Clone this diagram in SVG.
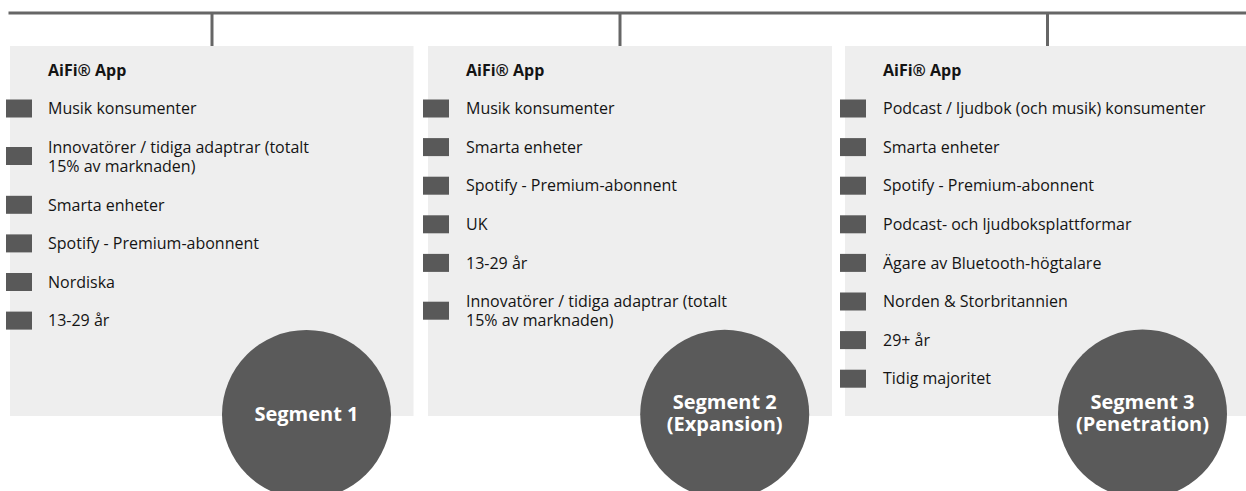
<svg xmlns="http://www.w3.org/2000/svg" width="1246" height="491" viewBox="0 0 1246 491">
<style>
.panel{fill:#eeeeee}
.bul{fill:#595959}
.conn{stroke:#666666;stroke-width:3;fill:none}
.t{font-family:"Open Sans","Liberation Sans",sans-serif;font-size:16px;fill:#141414}
.h{font-family:"Open Sans","Liberation Sans",sans-serif;font-size:16px;font-weight:bold;fill:#141414}
.circ{fill:#5a5a5a}
.ct{font-family:"Open Sans","Liberation Sans",sans-serif;font-size:20px;font-weight:bold;fill:#ffffff;text-anchor:middle}
</style>
<rect width="1246" height="491" fill="#ffffff"/>
<g id="connectors">
<line class="conn" x1="8.5" y1="13" x2="1246" y2="13"/>
<line class="conn" x1="212" y1="13" x2="212" y2="46"/>
<line class="conn" x1="620" y1="13" x2="620" y2="46"/>
<line class="conn" x1="1047.5" y1="13" x2="1047.5" y2="46"/>
</g>
<g id="segment1">
<rect class="panel" x="10" y="46" width="403.5" height="370"/>
<text class="h" x="48" y="75.5">AiFi® App</text>
<rect class="bul" x="6" y="99.5" width="26" height="18"/>
<text class="t" x="48" y="114">Musik konsumenter</text>
<rect class="bul" x="6" y="147" width="26" height="18"/>
<text class="t" x="48" y="152.7">Innovatörer / tidiga adaptrar (totalt<tspan x="48" dy="19.3">15% av marknaden)</tspan></text>
<rect class="bul" x="6" y="195.8" width="26" height="18"/>
<text class="t" x="48" y="210.6">Smarta enheter</text>
<rect class="bul" x="6" y="234.4" width="26" height="18"/>
<text class="t" x="48" y="249.2">Spotify - Premium-abonnent</text>
<rect class="bul" x="6" y="273" width="26" height="18"/>
<text class="t" x="48" y="287.8">Nordiska</text>
<rect class="bul" x="6" y="311.6" width="26" height="18"/>
<text class="t" x="48" y="326.4">13-29 år</text>
<circle class="circ" cx="306.5" cy="414.5" r="84.5"/>
<text class="ct" x="306.5" y="420.5">Segment 1</text>
</g>
<g id="segment2">
<rect class="panel" x="428" y="46" width="404" height="370"/>
<text class="h" x="466" y="75.5">AiFi® App</text>
<rect class="bul" x="423" y="99.5" width="26" height="18"/>
<text class="t" x="466" y="114">Musik konsumenter</text>
<rect class="bul" x="423" y="138.1" width="26" height="18"/>
<text class="t" x="466" y="152.7">Smarta enheter</text>
<rect class="bul" x="423" y="176.7" width="26" height="18"/>
<text class="t" x="466" y="191.3">Spotify - Premium-abonnent</text>
<rect class="bul" x="423" y="215.3" width="26" height="18"/>
<text class="t" x="466" y="229.9">UK</text>
<rect class="bul" x="423" y="253.9" width="26" height="18"/>
<text class="t" x="466" y="268.5">13-29 år</text>
<rect class="bul" x="423" y="301.7" width="26" height="18"/>
<text class="t" x="466" y="307.1">Innovatörer / tidiga adaptrar (totalt<tspan x="466" dy="19.3">15% av marknaden)</tspan></text>
<circle class="circ" cx="724.7" cy="414.3" r="84.5"/>
<text class="ct" x="724.7" y="408.7">Segment 2<tspan x="724.7" dy="22.5">(Expansion)</tspan></text>
</g>
<g id="segment3">
<rect class="panel" x="845" y="46" width="401" height="370"/>
<text class="h" x="883" y="75.5">AiFi® App</text>
<rect class="bul" x="840" y="99.5" width="26" height="18"/>
<text class="t" x="883" y="114">Podcast / ljudbok (och musik) konsumenter</text>
<rect class="bul" x="840" y="138.1" width="26" height="18"/>
<text class="t" x="883" y="152.7">Smarta enheter</text>
<rect class="bul" x="840" y="176.7" width="26" height="18"/>
<text class="t" x="883" y="191.3">Spotify - Premium-abonnent</text>
<rect class="bul" x="840" y="215.3" width="26" height="18"/>
<text class="t" x="883" y="229.9">Podcast- och ljudboksplattformar</text>
<rect class="bul" x="840" y="253.9" width="26" height="18"/>
<text class="t" x="883" y="268.5">Ägare av Bluetooth-högtalare</text>
<rect class="bul" x="840" y="292.5" width="26" height="18"/>
<text class="t" x="883" y="307.1">Norden &amp; Storbritannien</text>
<rect class="bul" x="840" y="331.1" width="26" height="18"/>
<text class="t" x="883" y="345.7">29+ år</text>
<rect class="bul" x="840" y="369.7" width="26" height="18"/>
<text class="t" x="883" y="384.3">Tidig majoritet</text>
<circle class="circ" cx="1142.5" cy="414" r="84.5"/>
<text class="ct" x="1142.5" y="409">Segment 3<tspan x="1142.5" dy="22.2">(Penetration)</tspan></text>
</g>
</svg>
